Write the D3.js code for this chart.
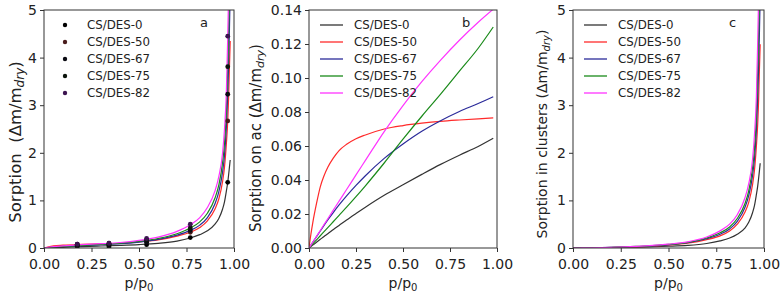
<!DOCTYPE html>
<html><head><meta charset="utf-8">
<script src="https://cdn.jsdelivr.net/npm/d3@7"></script>
<style>
html,body{margin:0;padding:0;background:#fff;}
svg{display:block;font-family:"DejaVu Sans",sans-serif;}
</style></head>
<body>
<svg id="chart" width="781" height="295"></svg>
<script>
// ---------- data ----------
const seriesNames = ["CS/DES-0","CS/DES-50","CS/DES-67","CS/DES-75","CS/DES-82"];
const lineColors = ["#333333","#ff2a2a","#2b2b9a","#1a8a1a","#ff33ff"];
const markerColors = ["#000000","#4a1c1c","#0a0a12","#0c140c","#3c1450"];

const xTickLabels = ["0.00","0.25","0.50","0.75","1.00"];
const xTicks = [0,0.25,0.5,0.75,1.0];
const yTicksA = [0,1,2,3,4,5];
const yTicksB = [0,0.02,0.04,0.06,0.08,0.10,0.12,0.14];
const yTicksC = [0,1,2,3,4,5];

// panel a: measured points
const ptsX = [0.175, 0.342, 0.54, 0.77, 0.967];
const pts0  = [0.03, 0.03, 0.07, 0.22, 1.38];
const pts50 = [0.08, 0.10, 0.15, 0.33, 2.67];
const pts67 = [0.06, 0.06, 0.12, 0.37, 3.23];
const pts75 = [0.07, 0.08, 0.17, 0.42, 3.81];
const pts82 = [0.08, 0.10, 0.20, 0.50, 4.45];

// panel a & c: curve abscissae
const curveX = [0,0.05,0.1,0.2,0.3,0.4,0.5,0.6,0.7,0.77,0.82,0.86,0.9,0.92,0.94,0.95,0.96,0.967,0.972,0.976,0.98];
const a0  = [0,0.008,0.015,0.03,0.042,0.055,0.072,0.098,0.145,0.21,0.28,0.36,0.5,0.62,0.82,0.97,1.2,1.38,1.55,1.7,1.85];
const a50 = [0,0.045,0.06,0.075,0.085,0.1,0.13,0.17,0.25,0.33,0.43,0.57,0.82,1.03,1.4,1.7,2.2,2.67,3.2,3.8,4.35];
const a67 = [0,0.02,0.035,0.05,0.07,0.09,0.125,0.18,0.27,0.37,0.48,0.64,0.93,1.18,1.6,1.95,2.55,3.23,3.9,4.6,5.4];
const a75 = [0,0.02,0.035,0.055,0.075,0.1,0.14,0.2,0.3,0.42,0.55,0.73,1.05,1.32,1.8,2.2,2.9,3.81,4.6,5.4,6.3];
const a82 = [0,0.03,0.045,0.07,0.09,0.115,0.16,0.23,0.35,0.49,0.64,0.85,1.2,1.5,2.0,2.5,3.3,4.45,5.4,6.4,7.5];

const c0  = [0,0.0005,0.002,0.008,0.016,0.025,0.037,0.055,0.095,0.15,0.21,0.29,0.42,0.54,0.74,0.89,1.12,1.3,1.47,1.62,1.78];
const c50 = [0,0.0005,0.002,0.01,0.02,0.035,0.06,0.1,0.175,0.255,0.355,0.5,0.75,0.96,1.33,1.63,2.13,2.6,3.13,3.75,4.28];
const c67 = [0,0.001,0.003,0.012,0.025,0.04,0.065,0.11,0.195,0.29,0.4,0.56,0.85,1.1,1.52,1.87,2.47,3.15,3.82,4.52,5.3];
const c75 = [0,0.001,0.003,0.013,0.028,0.045,0.075,0.12,0.21,0.32,0.44,0.62,0.93,1.2,1.68,2.08,2.78,3.7,4.5,5.3,6.2];
const c82 = [0,0.001,0.004,0.015,0.03,0.05,0.08,0.13,0.23,0.36,0.5,0.7,1.05,1.35,1.86,2.37,3.17,4.33,5.3,6.3,7.4];

// panel b
const bX  = [0,0.01,0.02,0.04,0.06,0.08,0.1,0.13,0.16,0.2,0.25,0.3,0.4,0.5,0.6,0.7,0.8,0.9,0.98];
const b0  = [0,0.00085,0.0017,0.0034,0.0051,0.0068,0.0084,0.0109,0.0133,0.0165,0.0203,0.024,0.031,0.0372,0.0433,0.0492,0.0546,0.0597,0.0645];
const b50 = [0,0.008,0.0148,0.0262,0.036,0.0425,0.0475,0.053,0.0573,0.061,0.0643,0.0665,0.07,0.072,0.0734,0.0745,0.0753,0.076,0.0765];
const b67 = [0,0.0017,0.0034,0.0067,0.01,0.0133,0.0165,0.021,0.0253,0.0306,0.0368,0.0425,0.0527,0.0612,0.0687,0.0749,0.0803,0.085,0.089];
const b75 = [0,0.0012,0.0024,0.0048,0.0072,0.0096,0.012,0.0156,0.0192,0.024,0.0302,0.0366,0.05,0.064,0.0775,0.0905,0.104,0.1175,0.13];
const b82 = [0,0.0017,0.0034,0.0069,0.0103,0.0138,0.0172,0.0224,0.0276,0.0344,0.043,0.0515,0.0685,0.0838,0.0978,0.1105,0.1222,0.1328,0.1405];

// ---------- drawing ----------
const svg = d3.select("#chart");
const TOP = 10, BOTTOM = 248;
const panels = [
  {id:"a", x0:44, x1:234, yMax:5, yTicks:yTicksA, yFmt:d3.format("d"), ylab:"Sorption\u00a0\u00a0(\u0394m/m", ylabX:15, ylabY:142, ylabFs:16.5,
   cx:curveX, curves:[a0,a50,a67,a75,a82], points:[pts0,pts50,pts67,pts75,pts82], tag:"a", tagX:200},
  {id:"b", x0:309, x1:497, yMax:0.14, yTicks:yTicksB, yFmt:d3.format(".2f"), ylab:"Sorption on ac (\u0394m/m", ylabX:256, ylabY:138, ylabFs:15,
   cx:bX, curves:[b0,b50,b67,b75,b82], points:null, tag:"b", tagX:462},
  {id:"c", x0:573, x1:764, yMax:5, yTicks:yTicksC, yFmt:d3.format("d"), ylab:"Sorption in clusters (\u0394m/m", ylabX:542, ylabY:134, ylabFs:14,
   cx:curveX, curves:[c0,c50,c67,c75,c82], points:null, tag:"c", tagX:729}
];

const FS_TICK = 14, FS_LAB = 14, FS_LEG = 11.8;

panels.forEach(p => {
  const x = d3.scaleLinear().domain([0,1]).range([p.x0,p.x1]);
  const y = d3.scaleLinear().domain([0,p.yMax]).range([BOTTOM,TOP]);
  const g = svg.append("g");
  const clipId = "clip-"+p.id;
  svg.append("clipPath").attr("id",clipId).append("rect")
    .attr("x",p.x0).attr("y",TOP).attr("width",p.x1-p.x0).attr("height",BOTTOM-TOP);

  // curves
  const line = d3.line().x(d=>x(d[0])).y(d=>y(d[1])).curve(d3.curveMonotoneX);
  const cg = g.append("g").attr("clip-path","url(#"+clipId+")");
  p.curves.forEach((vals,i) => {
    cg.append("path").datum(p.cx.map((xv,j)=>[xv,vals[j]]))
      .attr("d",line).attr("fill","none").attr("stroke",lineColors[i]).attr("stroke-width",1.2);
  });
  // points
  if (p.points) {
    p.points.forEach((vals,i) => {
      cg.selectAll(null).data(ptsX.map((xv,j)=>[xv,vals[j]])).enter().append("circle")
        .attr("cx",d=>x(d[0])).attr("cy",d=>y(d[1])).attr("r",2.4).attr("fill",markerColors[i]);
    });
  }

  // axes
  const xa = d3.axisBottom(x).tickValues(xTicks).tickFormat((d,i)=>xTickLabels[i]).tickSize(4).tickPadding(7);
  const ya = d3.axisLeft(y).tickValues(p.yTicks).tickFormat(p.yFmt).tickSize(4).tickPadding(3);
  const gx = g.append("g").attr("transform","translate(0,"+BOTTOM+")").call(xa);
  const gy = g.append("g").attr("transform","translate("+p.x0+",0)").call(ya);
  [gx,gy].forEach(a=>{
    a.select(".domain").remove();
    a.selectAll(".tick line").attr("stroke","#333");
    a.selectAll(".tick text").attr("fill","#222").style("font-size",FS_TICK+"px").style("font-family","DejaVu Sans");
  });
  // frame
  g.append("rect").attr("x",p.x0).attr("y",TOP).attr("width",p.x1-p.x0).attr("height",BOTTOM-TOP)
    .attr("fill","none").attr("stroke","#333").attr("stroke-width",1);

  // x label
  const xl = g.append("text").attr("x",(p.x0+p.x1)/2).attr("y",288).attr("text-anchor","middle")
    .style("font-size",FS_LAB+"px").attr("fill","#222");
  xl.append("tspan").text("p/p");
  xl.append("tspan").text("0").attr("dy",3).style("font-size","10px");

  // y label
  const sub = Math.round(p.ylabFs*0.72);
  const yl = g.append("text").attr("transform","translate("+p.ylabX+","+p.ylabY+") rotate(-90)")
    .attr("text-anchor","middle").attr("dy","0.35em").style("font-size",p.ylabFs+"px").attr("fill","#222");
  yl.append("tspan").text(p.ylab);
  yl.append("tspan").text("dry").attr("dy",3).style("font-size",sub+"px").style("font-style","italic");
  yl.append("tspan").text(")").attr("dy",-3);

  // panel tag
  g.append("text").attr("x",p.tagX).attr("y",27).text(p.tag).style("font-size","13px").attr("fill","#222");

  // legend
  const legY0 = 25, legDy = 17;
  seriesNames.forEach((nm,i) => {
    const ly = legY0 + i*legDy;
    if (p.points) {
      g.append("circle").attr("cx",p.x0+21).attr("cy",ly).attr("r",2.2).attr("fill",markerColors[i]);
      g.append("text").attr("x",p.x0+43).attr("y",ly).attr("dy","0.35em").text(nm)
        .style("font-size",FS_LEG+"px").attr("fill","#222");
    } else {
      g.append("line").attr("x1",p.x0+11).attr("x2",p.x0+34).attr("y1",ly).attr("y2",ly)
        .attr("stroke",lineColors[i]).attr("stroke-width",1.3);
      g.append("text").attr("x",p.x0+45).attr("y",ly).attr("dy","0.35em").text(nm)
        .style("font-size",FS_LEG+"px").attr("fill","#222");
    }
  });
});
</script>
</body></html>
